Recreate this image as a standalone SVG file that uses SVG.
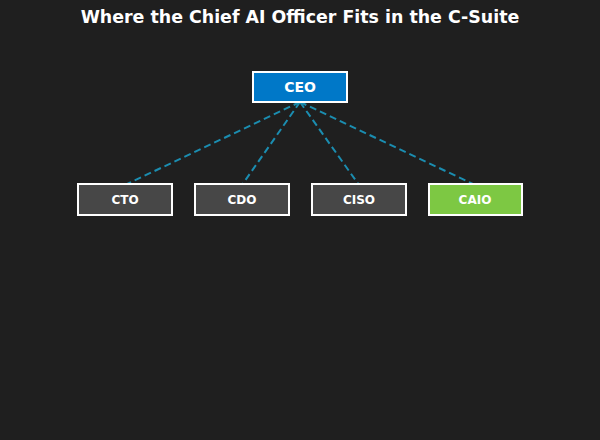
<svg xmlns="http://www.w3.org/2000/svg" width="600" height="440" viewBox="0 0 600 440">
<style>
text{font-family:"DejaVu Sans","Liberation Sans",sans-serif;font-weight:bold;fill:#ffffff;text-anchor:middle}
.box{stroke:#ffffff;stroke-width:2}
.sub{fill:#474747}
.lbl{font-size:12px}
.conn{stroke:#1b8db0;stroke-width:2;stroke-dasharray:7,4;fill:none}
</style>
<rect width="600" height="440" fill="#1f1f1f"/>
<text x="300" y="23" font-size="17.4">Where the Chief AI Officer Fits in the C-Suite</text>
<g id="connectors">
<line class="conn" x1="300" y1="102" x2="125" y2="185"/>
<line class="conn" x1="300" y1="102" x2="242" y2="185"/>
<line class="conn" x1="300" y1="102" x2="359" y2="185"/>
<line class="conn" x1="300" y1="102" x2="475" y2="185"/>
</g>
<g id="ceo">
<rect class="box" x="253" y="72" width="94" height="30" fill="#0078c8"/>
<text x="300" y="92" font-size="14">CEO</text>
</g>
<g id="cto">
<rect class="box sub" x="78" y="184" width="94" height="31"/>
<text class="lbl" x="125" y="204">CTO</text>
</g>
<g id="cdo">
<rect class="box sub" x="195" y="184" width="94" height="31"/>
<text class="lbl" x="242" y="204">CDO</text>
</g>
<g id="ciso">
<rect class="box sub" x="312" y="184" width="94" height="31"/>
<text class="lbl" x="359" y="204">CISO</text>
</g>
<g id="caio">
<rect class="box" x="429" y="184" width="93" height="31" fill="#7dc843"/>
<text class="lbl" x="475" y="204">CAIO</text>
</g>
</svg>
